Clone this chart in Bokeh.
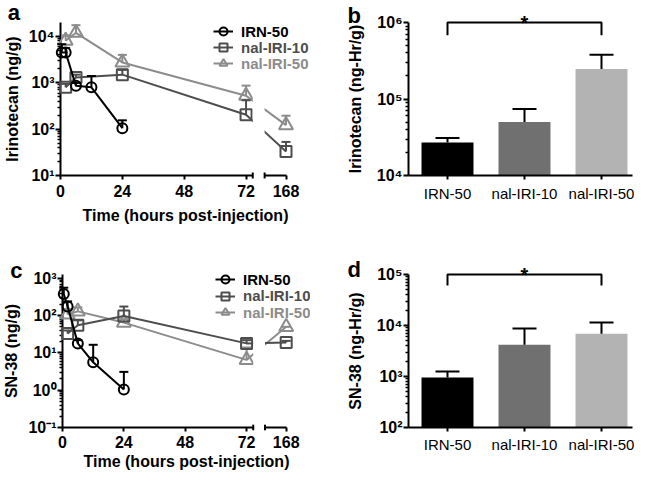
import math
from bokeh.plotting import figure
from bokeh.layouts import row, column
from bokeh.models import Range1d, FixedTicker, Legend, LegendItem, ColumnDataSource
from bokeh.core.properties import value
from bokeh.embed import file_html
from bokeh.resources import INLINE

FONT = "Liberation Sans"

# ---------------- data ----------------
groups = ["IRN-50", "nal-IRI-10", "nal-IRI-50"]
line_colors = ["#000000", "#4d4d4d", "#8c8c8c"]
bar_colors = ["#000000", "#707070", "#b3b3b3"]
marker_types = ["circle", "square", "triangle"]
marker_sizes = [10, 11, 14]

irn_hours = [0.5, 2, 6, 12, 24]
nal_hours = [2, 6, 24, 72, 168]
time_ticks = [0, 24, 48, 72, 168]

# panel a: irinotecan in tumour (ng/g): mean and top of error bar
irin_irn50 = [4500, 4500, 860, 800, 105]
irin_irn50_hi = [6800, 5600, 1000, 1400, 155]
irin_nal10 = [800, 1300, 1500, 205, 33]
irin_nal10_hi = [950, 1500, 1900, 420, 53]
irin_nal50 = [8100, 12000, 2750, 525, 122]
irin_nal50_hi = [10500, 17500, 4000, 870, 195]

# panel c: SN-38 in tumour (ng/g)
sn38_irn50 = [380, 175, 18, 5.6, 1.05]
sn38_irn50_hi = [560, 240, 22, 16.5, 3.1]
sn38_nal10 = [33, 55, 97, 18, 19]
sn38_nal10_hi = [40, 75, 175, 22, 21]
sn38_nal50 = [107, 130, 65, 6.5, 50]
sn38_nal50_hi = [150, 165, 80, 14, 50]

# panels b, d: AUC (ng-Hr/g)
irin_auc = [2.7e4, 5.0e4, 2.47e5]
irin_auc_hi = [3.1e4, 7.4e4, 3.8e5]
sn38_auc = [960, 4200, 6900]
sn38_auc_hi = [1250, 8700, 11400]

# ---------------- helpers ----------------
SUP = {"-": "\u207b", "0": "\u2070", "1": "\u00b9", "2": "\u00b2", "3": "\u00b3",
       "4": "\u2074", "5": "\u2075", "6": "\u2076"}


def pow10_label(e):
    return "10" + "".join(SUP[c] for c in str(e))


# broken time axis: 0-74.6 h, gap, then the 168 h segment
BREAK_LO, BREAK_HI, LATE_SHIFT = 74.6, 79.2, 80.5
PX_PER_HOUR = 2.639


def disp(t):
    return t if t <= BREAK_LO else t - LATE_SHIFT


def style_axis(ax, size="16px", weight="bold"):
    ax.axis_line_width = 2
    ax.axis_line_color = "black"
    ax.major_tick_line_width = 2
    ax.major_tick_line_color = "black"
    ax.major_tick_in = 0
    ax.major_tick_out = 5
    ax.minor_tick_line_width = 1.5
    ax.minor_tick_line_color = "black"
    ax.minor_tick_in = 0
    ax.minor_tick_out = 3
    ax.major_label_text_font = FONT
    ax.major_label_text_font_size = size
    ax.major_label_text_font_style = weight
    ax.major_label_text_color = "black"
    ax.axis_label_text_font = FONT
    ax.axis_label_text_font_size = "16px"
    ax.axis_label_text_font_style = "bold"
    ax.axis_label_text_color = "black"


def log_ticker(exps):
    majors = [10.0 ** e for e in exps]
    minors = [m * 10.0 ** e for e in exps[:-1] for m in range(2, 10)]
    return FixedTicker(ticks=majors, minor_ticks=minors), {10.0 ** e: pow10_label(e) for e in exps}


def base_fig(width, height, borders, x0, x1, y_lo, y_hi):
    left, right, top, bottom = borders
    p = figure(width=width, height=height, title=None, output_backend="svg", toolbar_location=None,
               y_axis_type="log", x_range=Range1d(x0, x1), y_range=Range1d(y_lo, y_hi),
               min_border_left=left, min_border_right=right, min_border_top=top, min_border_bottom=bottom)
    p.outline_line_color = None
    p.grid.visible = False
    p.background_fill_color = "white"
    p.border_fill_color = "white"
    return p


def local_to_data(width, height, borders, x0, x1, y_lo, y_hi, cx, cy):
    """Convert a pixel position inside a figure to its data coordinates."""
    left, right, top, bottom = borders
    fw = width - left - right
    fh = height - top - bottom
    x = x0 + (cx - left) * (x1 - x0) / fw
    ly = math.log10(y_hi) - (cy - top) * (math.log10(y_hi) - math.log10(y_lo)) / fh
    return x, 10 ** ly


def overlay_text(p, txt, x, y, size, align="left"):
    p.text(x=[x], y=[y], text=[txt], text_font=value(FONT), text_font_size=size,
           text_font_style="bold", text_color="black", text_baseline="alphabetic",
           text_align=align, level="overlay")


def time_panel(height, borders, y_lo, y_hi, exps, ylabel, series, legend_centers,
               letter_txt, letter_xy, tick_standoff, xlabel_standoff, cover_top, brk_f):
    width = 330
    left, right, top, bottom = borders
    frame_w = width - left - right
    frame_h = height - top - bottom
    x0, x1 = 0, frame_w / PX_PER_HOUR
    p = base_fig(width, height, borders, x0, x1, y_lo, y_hi)

    xa, ya = p.xaxis[0], p.yaxis[0]
    style_axis(xa)
    style_axis(ya)
    xa.ticker = FixedTicker(ticks=[disp(t) for t in time_ticks], minor_ticks=[])
    xa.major_label_overrides = {disp(t): str(t) for t in time_ticks}
    xa.bounds = (0, disp(time_ticks[-1]))
    xa.major_tick_out = 4
    xa.major_label_standoff = tick_standoff
    xa.axis_label = "Time (hours post-injection)"
    xa.axis_label_standoff = xlabel_standoff
    tk, labels = log_ticker(exps)
    ya.ticker = tk
    ya.major_label_overrides = labels
    ya.major_label_standoff = 1
    ya.axis_label = ylabel
    ya.axis_label_standoff = 5

    rends = {}
    for i in reversed(range(len(series))):
        name, hrs, mean, hi = series[i]
        col = line_colors[i]
        src = ColumnDataSource(dict(x=[disp(h) for h in hrs], y=mean, hi=hi))
        ln = p.line("x", "y", source=src, line_color=col, line_width=2, level="overlay")
        p.segment("x", "y", "x", "hi", source=src, line_color=col, line_width=2, level="overlay")
        p.scatter("x", "hi", source=src, marker="dash", size=9, line_color=col, line_width=2,
                  level="overlay")
        sc = p.scatter("x", "y", source=src, marker=marker_types[i], size=marker_sizes[i],
                       line_color=col, line_width=2, fill_color=None, level="overlay")
        rends[i] = (ln, sc)

    # axis break: blank gap and end ticks
    p.quad(left=[BREAK_LO], right=[BREAK_HI], bottom=[y_lo / 1.3], top=[cover_top],
           fill_color="white", line_color=None, level="overlay")
    p.segment(x0=[BREAK_LO, BREAK_HI], y0=[y_lo / brk_f] * 2, x1=[BREAK_LO, BREAK_HI],
              y1=[y_lo * brk_f] * 2, line_color="black", line_width=2, level="overlay")

    for i, c in enumerate(legend_centers):
        lg = Legend(items=[LegendItem(label=series[i][0], renderers=list(rends[i]))],
                    location=(153, frame_h - c - 10), orientation="vertical",
                    glyph_width=20, glyph_height=20, label_height=20, label_standoff=8,
                    padding=0, margin=0, spacing=0, border_line_color=None,
                    background_fill_alpha=0, label_text_font=FONT, label_text_font_size="15px",
                    label_text_font_style="bold", label_text_color=line_colors[i])
        p.add_layout(lg)

    lx, ly = local_to_data(width, height, borders, x0, x1, y_lo, y_hi, *letter_xy)
    overlay_text(p, letter_txt, lx, ly, "22px")
    return p


def bar_panel(height, borders, y_lo, y_hi, exps, ylabel, vals, his, bracket_drop,
              letter_txt, letter_xy, tick_standoff):
    width = 304
    x0, x1 = -0.5065, 2.4026
    xs = list(range(len(groups)))
    p = base_fig(width, height, borders, x0, x1, y_lo, y_hi)
    xa, ya = p.xaxis[0], p.yaxis[0]
    style_axis(xa, size="15px", weight="normal")
    style_axis(ya)
    xa.ticker = FixedTicker(ticks=xs, minor_ticks=[])
    xa.major_label_overrides = {x: g for x, g in zip(xs, groups)}
    xa.major_tick_out = 4
    xa.major_label_standoff = tick_standoff
    tk, labels = log_ticker(exps)
    ya.ticker = tk
    ya.major_label_overrides = labels
    ya.major_label_standoff = 1
    ya.axis_label = ylabel
    ya.axis_label_standoff = 10

    src = ColumnDataSource(dict(x=xs, top=vals, hi=his, color=bar_colors))
    p.vbar(x="x", top="top", bottom=y_lo, width=0.675, fill_color="color", line_color=None,
           source=src)
    p.segment("x", "top", "x", "hi", source=src, line_color="black", line_width=2)
    p.scatter("x", "hi", source=src, marker="dash", size=24, line_color="black", line_width=2)

    # significance bracket IRN-50 vs nal-IRI-50, at the top of the axis
    bracket_y = y_hi
    p.line(x=[xs[0], xs[0], xs[-1], xs[-1]],
           y=[bracket_drop, bracket_y, bracket_y, bracket_drop],
           line_color="black", line_width=2, level="overlay")
    overlay_text(p, "*", (xs[0] + xs[-1]) / 2, bracket_y, "20px", align="center")
    lx, ly = local_to_data(width, height, borders, x0, x1, y_lo, y_hi, *letter_xy)
    overlay_text(p, letter_txt, lx, ly, "22px")
    return p


pa = time_panel(240, (54, 20, 22, 65), 10, 2.0e4, [1, 2, 3, 4], "Irinotecan (ng/g)",
                [(groups[0], irn_hours, irin_irn50, irin_irn50_hi),
                 (groups[1], nal_hours, irin_nal10, irin_nal10_hi),
                 (groups[2], nal_hours, irin_nal50, irin_nal50_hi)],
                [9, 25, 41], "a", (0, 12), 5, 7, 1000, 1.16)

pc = time_panel(235, (54, 20, 28, 46), 0.1, 1265, [-1, 0, 1, 2, 3], "SN-38 (ng/g)",
                [(groups[0], irn_hours, sn38_irn50, sn38_irn50_hi),
                 (groups[1], nal_hours, sn38_nal10, sn38_nal10_hi),
                 (groups[2], nal_hours, sn38_nal50, sn38_nal50_hi)],
                [13, 29.5, 46], "c", (0, 24), 4, 2, 30, 1.19)

pb = bar_panel(240, (78, 2, 21, 65), 1e4, 1e6, [4, 5, 6], "Irinotecan (ng-Hr/g)",
               irin_auc, irin_auc_hi, 6.8e5, "b", (17, 14), 5)

pd = bar_panel(235, (78, 2, 34, 48), 1e2, 1e5, [2, 3, 4, 5], "SN-38 (ng-Hr/g)",
               sn38_auc, sn38_auc_hi, 6.1e4, "d", (17, 29), 4)

layout = column(row(pa, pb), row(pc, pd))

open("out.html", "w").write(file_html(layout, INLINE))
